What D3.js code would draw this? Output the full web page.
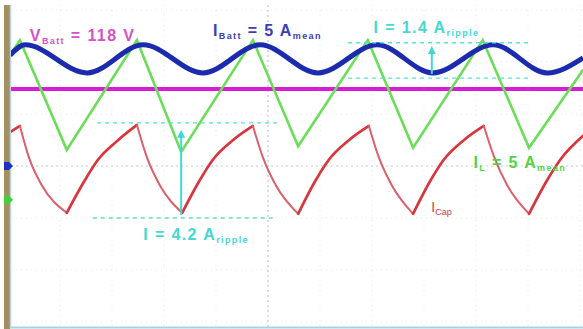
<!DOCTYPE html>
<html>
<head>
<meta charset="utf-8">
<script src="https://cdn.jsdelivr.net/npm/d3@7"></script>
<style>
  body { margin: 0; background: #fff; }
  svg { display: block; }
  text { font-family: "Liberation Sans", Arial, sans-serif; }
</style>
</head>
<body>
<svg id="scope" width="583" height="329"></svg>
<script>
// time and level both in scope divisions (centre line = 0)
const greenT = [0.04, 0.23, 1.13, 2.48, 3.33, 4.71, 5.58, 6.92, 7.79, 9.13, 10.02, 11.06];
const greenV = [2.13, 2.42, 0.31, 2.42, 0.27, 2.42, 0.38, 2.42, 0.35, 2.42, 0.35, 1.85];

const blueT = [0.04, 0.33, 1.52, 2.60, 3.75, 4.85, 5.96, 7.10, 8.17, 9.33, 10.37, 11.06];
const blueV = [2.13, 2.33, 1.79, 2.33, 1.79, 2.33, 1.79, 2.33, 1.79, 2.33, 1.79, 2.08];

const redT = [0.04, 0.23, 0.40, 0.65, 1.13, 1.48, 1.73, 2.12, 2.48, 2.67, 2.92, 3.35,
  3.69, 3.94, 4.33, 4.71, 4.90, 5.15, 5.58, 5.92, 6.17, 6.56, 6.94, 7.13, 7.38, 7.79,
  8.13, 8.38, 8.77, 9.15, 9.35, 9.60, 10.02, 10.37, 10.62, 11.06];
const redV = [0.65, 0.77, 0.17, -0.37, -0.90, -0.27, 0.12, 0.50, 0.79, 0.17, -0.37, -0.90,
  -0.27, 0.12, 0.50, 0.77, 0.17, -0.37, -0.92, -0.27, 0.12, 0.50, 0.77, 0.17, -0.37, -0.92,
  -0.27, 0.12, 0.50, 0.77, 0.17, -0.37, -0.92, -0.27, 0.12, 0.58];

const vBattLevel = 1.48;

// cursor lines for ripple measurements: [tStart, tEnd, level]
const battRippleLevels = [[6.54, 10.04, 2.37], [6.54, 10.00, 1.69]];
const capRippleLevels = [[1.71, 5.17, 0.83], [1.63, 5.10, -1.00]];
// arrows: [t, vFrom, vTo]
const rippleArrows = [[8.15, 1.77, 2.23], [3.33, -0.94, 0.62]];

// channel ground markers
const markerLevels = [0, -0.65];
const markerColors = ["#1d2fc4", "#3fd236"];

const W = 583, H = 329;
const svg = d3.select("#scope");

const x = d3.scaleLinear().domain([0, 11]).range([8, 580]);
const y = d3.scaleLinear().domain([-3, 3]).range([322, 10]);

const defs = svg.append("defs");
defs.append("clipPath").attr("id", "plot")
  .append("rect").attr("x", 11).attr("y", 5).attr("width", W - 11).attr("height", 322);
defs.append("filter").attr("id", "soft")
  .append("feGaussianBlur").attr("stdDeviation", 0.55);
defs.append("marker").attr("id", "head")
  .attr("viewBox", "0 0 10 10").attr("refX", 5).attr("refY", 5)
  .attr("markerWidth", 4).attr("markerHeight", 4).attr("orient", "auto")
  .append("path").attr("d", "M0,0 L10,5 L0,10 Z").attr("fill", "#3fd8d2");

// grid
const grid = svg.append("g").attr("clip-path", "url(#plot)");
grid.selectAll(".vg").data(d3.range(0, 12)).join("line")
  .attr("x1", d => x(d)).attr("x2", d => x(d)).attr("y1", 5).attr("y2", 327)
  .attr("stroke", d => d === 5 ? "#b9bec4" : "#e6e9ec")
  .attr("stroke-width", 1)
  .attr("stroke-dasharray", d => d === 5 ? "2,3" : "1,4");
grid.selectAll(".hg").data(d3.range(-3, 4)).join("line")
  .attr("y1", d => y(d)).attr("y2", d => y(d)).attr("x1", 11).attr("x2", W)
  .attr("stroke", d => d === 0 ? "#c4c9ce" : "#e6e9ec")
  .attr("stroke-width", 1)
  .attr("stroke-dasharray", d => d === 0 ? "2,3" : "1,4");

// frame
svg.append("rect").attr("x", 4).attr("y", 5).attr("width", 6).attr("height", H - 5)
  .attr("fill", "#a38f5f");
svg.append("line").attr("x1", 10.5).attr("x2", 10.5).attr("y1", 5).attr("y2", 328)
  .attr("stroke", "#b8d4ea").attr("stroke-width", 1.5);
svg.append("line").attr("x1", 10).attr("x2", W).attr("y1", 327.5).attr("y2", 327.5)
  .attr("stroke", "#a9d2e6").attr("stroke-width", 2);

const traces = svg.append("g").attr("clip-path", "url(#plot)").attr("filter", "url(#soft)");

// V_Batt
traces.append("line")
  .attr("x1", x(0)).attr("x2", x(11.2)).attr("y1", y(vBattLevel)).attr("y2", y(vBattLevel))
  .attr("stroke", "#d81fd2").attr("stroke-width", 4);

// I_L (green triangle)
const lin = d3.line().x(d => x(d[0])).y(d => y(d[1]));
traces.append("path")
  .attr("d", lin(greenT.map((t, i) => [t, greenV[i]])))
  .attr("fill", "none").attr("stroke", "#6ade58").attr("stroke-width", 2.6)
  .attr("stroke-linejoin", "miter");

// I_Cap (red), drawn piece by piece between turning points
const mono = d3.line().x(d => x(d[0])).y(d => y(d[1])).curve(d3.curveMonotoneX);
const redPts = redT.map((t, i) => [t, redV[i]]);
const pieces = [];
let start = 0;
for (let i = 1; i < redPts.length - 1; i++) {
  const a = redPts[i][1] - redPts[i - 1][1], b = redPts[i + 1][1] - redPts[i][1];
  if (a * b < 0) { pieces.push(redPts.slice(start, i + 1)); start = i; }
}
pieces.push(redPts.slice(start));
traces.selectAll(".red").data(pieces).join("path")
  .attr("d", d => mono(d))
  .attr("fill", "none")
  .attr("stroke", d => d[d.length - 1][1] < d[0][1] ? "#dc5f6c" : "#d8343e")
  .attr("stroke-width", d => d[d.length - 1][1] < d[0][1] ? 2 : 2.7)
  .attr("stroke-linecap", "round");

// I_Batt (blue)
traces.append("path")
  .attr("d", mono(blueT.map((t, i) => [t, blueV[i]])))
  .attr("fill", "none").attr("stroke", "#1a2cae").attr("stroke-width", 5);

// ripple cursors
const cur = svg.append("g");
cur.selectAll(".lvl").data(battRippleLevels.concat(capRippleLevels)).join("line")
  .attr("x1", d => x(d[0])).attr("x2", d => x(d[1]))
  .attr("y1", d => y(d[2])).attr("y2", d => y(d[2]))
  .attr("stroke", "#5fdcd8").attr("stroke-width", 1.4).attr("stroke-dasharray", "4,4");
cur.selectAll(".arr").data(rippleArrows).join("line")
  .attr("x1", d => x(d[0])).attr("x2", d => x(d[0]))
  .attr("y1", d => y(d[1])).attr("y2", d => y(d[2]))
  .attr("stroke", "#3fd8d2").attr("stroke-width", 2)
  .attr("marker-end", "url(#head)");

// ground markers
svg.selectAll(".mk").data(markerLevels).join("path")
  .attr("d", d => `M4,${y(d) - 4} L9,${y(d) - 4} L13,${y(d)} L9,${y(d) + 4} L4,${y(d) + 4} Z`)
  .attr("fill", (d, i) => markerColors[i]);

// labels: parts are [text, isSubscript]
const labels = [
  { t: 0.42, v: 2.40, color: "#d452c6", parts: [["V", 0], ["Batt", 1], [" = 118 V", 0]] },
  { t: 3.94, v: 2.5, color: "#3a40b2", parts: [["I", 0], ["Batt", 1], [" = 5 A", 0], ["mean", 1]] },
  { t: 7.03, v: 2.56, color: "#45d8d3", parts: [["I = 1.4 A", 0], ["ripple", 1]] },
  { t: 2.60, v: -1.42, color: "#45d8d3", parts: [["I = 4.2 A", 0], ["ripple", 1]] },
  { t: 8.95, v: -0.04, color: "#52d43f", parts: [["I", 0], ["L", 1], [" = 5 A", 0], ["mean", 1]] },
];
labels.forEach(l => {
  const tx = svg.append("text")
    .attr("x", x(l.t)).attr("y", y(l.v))
    .attr("fill", l.color).attr("font-weight", "bold")
    .attr("letter-spacing", 1.4);
  l.parts.forEach((p, i) => {
    const prevSub = i > 0 && l.parts[i - 1][1];
    tx.append("tspan").text(p[0])
      .attr("font-size", p[1] ? 9 : 16)
      .attr("dy", p[1] && !prevSub ? 3 : (!p[1] && prevSub ? -3 : 0));
  });
});

const capLabel = svg.append("text")
  .attr("x", x(8.14)).attr("y", y(-0.88))
  .attr("fill", "#cf3a48").attr("font-size", 14);
capLabel.append("tspan").text("I");
capLabel.append("tspan").text("Cap").attr("font-size", 9).attr("dy", 3);
</script>
</body>
</html>
